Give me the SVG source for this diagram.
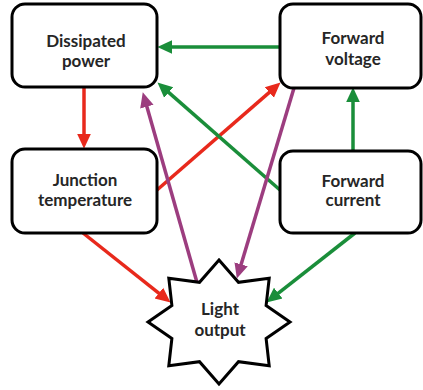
<svg xmlns="http://www.w3.org/2000/svg" width="423" height="390" viewBox="0 0 423 390">
  <style>
    .box { fill: #ffffff; stroke: #000000; stroke-width: 3; }
    .lbl { font-family: Lato, "Liberation Sans", sans-serif; font-weight: 700; font-size: 17px; fill: #262626; text-anchor: middle; }
    .c { fill: none; stroke-width: 3.5; stroke-linecap: butt; }
    .red { stroke: #e8291c; }
    .green { stroke: #1a8e3a; }
    .purple { stroke: #9c3d7f; }
  </style>
  <defs>
    <marker id="ah-red" markerUnits="userSpaceOnUse" markerWidth="16" markerHeight="16" refX="4" refY="0" viewBox="0 -7 15 14" orient="auto">
      <path d="M0,-6.5 L14,0 L0,6.5 Z" fill="#e8291c"/>
    </marker>
    <marker id="ah-green" markerUnits="userSpaceOnUse" markerWidth="16" markerHeight="16" refX="4" refY="0" viewBox="0 -7 15 14" orient="auto">
      <path d="M0,-6.5 L14,0 L0,6.5 Z" fill="#1a8e3a"/>
    </marker>
    <marker id="ah-purple" markerUnits="userSpaceOnUse" markerWidth="16" markerHeight="16" refX="4" refY="0" viewBox="0 -7 15 14" orient="auto">
      <path d="M0,-6.5 L14,0 L0,6.5 Z" fill="#9c3d7f"/>
    </marker>
  </defs>
  <rect width="423" height="390" fill="#ffffff"/>

  <g id="connectors">
    <line class="c green" x1="280" y1="47" x2="168" y2="47" marker-end="url(#ah-green)"/>
    <line class="c red" x1="84" y1="88" x2="84" y2="138" marker-end="url(#ah-red)"/>
    <line class="c red" x1="157" y1="190" x2="272.5" y2="89.6" marker-end="url(#ah-red)"/>
    <line class="c green" x1="280" y1="190" x2="165.5" y2="89.6" marker-end="url(#ah-green)"/>
    <line class="c green" x1="353" y1="151" x2="353" y2="98" marker-end="url(#ah-green)"/>
    <line class="c green" x1="355" y1="233" x2="274.9" y2="295.8" marker-end="url(#ah-green)"/>
    <line class="c red" x1="83" y1="233" x2="162.2" y2="295.8" marker-end="url(#ah-red)"/>
    <line class="c purple" x1="198" y1="286" x2="145.7" y2="102.6" marker-end="url(#ah-purple)"/>
    <line class="c purple" x1="294" y1="88" x2="239.9" y2="268.4" marker-end="url(#ah-purple)"/>
  </g>

  <g id="dissipated-power">
    <rect class="box" x="12" y="4" width="145" height="83" rx="13"/>
    <text class="lbl" x="86" y="47">Dissipated</text>
    <text class="lbl" x="86" y="67">power</text>
  </g>

  <g id="forward-voltage">
    <rect class="box" x="280" y="4" width="141" height="84" rx="13"/>
    <text class="lbl" x="353" y="44">Forward</text>
    <text class="lbl" x="353" y="65">voltage</text>
  </g>

  <g id="junction-temperature">
    <rect class="box" x="12" y="149" width="145" height="84" rx="13"/>
    <text class="lbl" x="85" y="186">Junction</text>
    <text class="lbl" x="85" y="206">temperature</text>
  </g>

  <g id="forward-current">
    <rect class="box" x="280" y="151" width="141" height="82" rx="13"/>
    <text class="lbl" x="353" y="187">Forward</text>
    <text class="lbl" x="353" y="206">current</text>
  </g>

  <g id="light-output">
    <polygon class="box" stroke-linejoin="miter" points="219,260 238.5,282.3 269.2,278.2 266.1,305.5 290,322 266.1,338.5 269.2,365.8 238.5,361.7 219,384 199.5,361.7 168.8,365.8 171.9,338.5 148,322 171.9,305.5 168.8,278.2 199.5,282.3"/>
    <text class="lbl" x="220" y="315">Light</text>
    <text class="lbl" x="220" y="336">output</text>
  </g>
</svg>
